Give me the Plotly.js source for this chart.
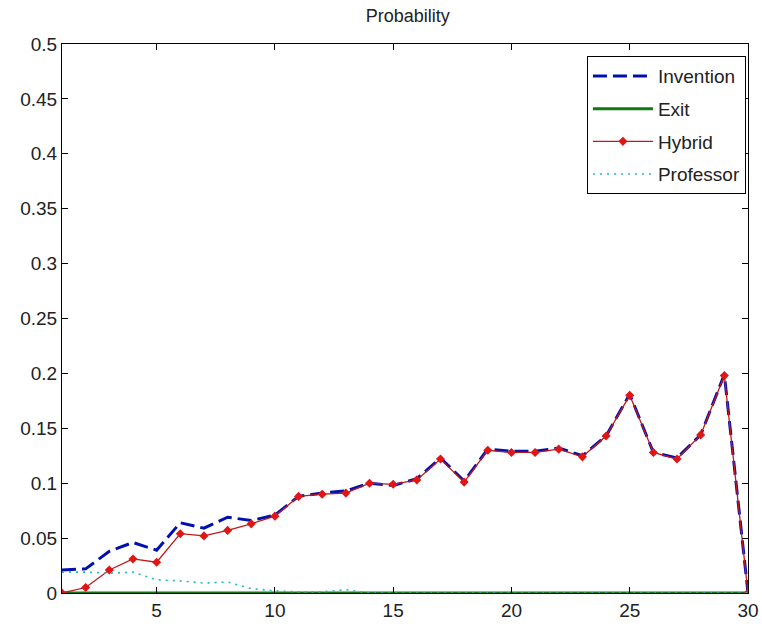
<!DOCTYPE html>
<html>
<head>
<meta charset="utf-8">
<script src="https://cdn.plot.ly/plotly-3.0.1.min.js"></script>
<style>
html,body{margin:0;padding:0;background:#fff;}
#chart{width:762px;height:630px;}
</style>
</head>
<body>
<div id="chart"></div>
<script>
const periods = [1,2,3,4,5,6,7,8,9,10,11,12,13,14,15,16,17,18,19,20,21,22,23,24,25,26,27,28,29,30];
const invention = [0.021,0.022,0.038,0.046,0.039,0.064,0.059,0.069,0.066,0.071,0.088,0.091,0.093,0.100,0.098,0.104,0.123,0.102,0.131,0.129,0.129,0.132,0.125,0.143,0.181,0.128,0.123,0.144,0.199,0];
const exitProb = [0,0,0,0,0,0,0,0,0,0,0,0,0,0,0,0,0,0,0,0,0,0,0,0,0,0,0,0,0,0];
const hybrid = [0,0.005,0.021,0.031,0.028,0.054,0.052,0.057,0.063,0.070,0.088,0.090,0.091,0.100,0.099,0.103,0.122,0.101,0.130,0.128,0.128,0.131,0.124,0.143,0.180,0.128,0.122,0.144,0.198,0];
const professor = [0.019,0.019,0.018,0.019,0.012,0.011,0.009,0.010,0.004,0.002,0.001,0.001,0.003,0,0,0,0,0,0,0,0,0,0,0,0,0,0,0,0,0];
const xTicks = [5,10,15,20,25,30];
const yTicks = [0,0.05,0.1,0.15,0.2,0.25,0.3,0.35,0.4,0.45,0.5];
const seriesNames = ['Invention','Exit','Hybrid','Professor'];

const FONT = 'Liberation Sans, Arial, sans-serif';

const traces = [
  {x: periods, y: invention, name: seriesNames[0], mode: 'lines', legendgroup: 'a',
   line: {color: '#0010b0', width: 3, dash: '14px,6px'}},
  {x: periods, y: exitProb, name: seriesNames[1], mode: 'lines', legendgroup: 'b',
   line: {color: '#107a10', width: 3}},
  {x: periods, y: hybrid, name: seriesNames[2], mode: 'lines+markers', legendgroup: 'c',
   line: {color: '#c01818', width: 1.3},
   marker: {symbol: 'diamond', size: 7, color: '#e01515'}},
  {x: periods, y: professor, name: seriesNames[3], mode: 'lines', legendgroup: 'd',
   line: {color: '#20b8c0', width: 1.6, dash: '2px,5px'}}
];

const layout = {
  width: 762, height: 630,
  margin: {l: 62, r: 14, t: 44, b: 37},
  paper_bgcolor: '#fff', plot_bgcolor: '#fff',
  font: {family: FONT, size: 19, color: '#222'},
  title: {text: 'Probability', font: {family: FONT, size: 18, color: '#222'}, x: 0.535, xanchor: 'center', y: 0.975, yanchor: 'middle'},
  xaxis: {
    range: [1, 30], tickmode: 'array', tickvals: xTicks, ticktext: xTicks.map(String),
    ticks: 'inside', ticklen: 6, tickcolor: '#000', showline: true, linecolor: '#000', linewidth: 1,
    mirror: 'ticks', showgrid: false, zeroline: false, tickfont: {size: 19}
  },
  yaxis: {
    range: [0, 0.5], tickmode: 'array', tickvals: yTicks, ticktext: yTicks.map(String),
    ticks: 'inside', ticklen: 6, tickcolor: '#000', showline: true, linecolor: '#000', linewidth: 1,
    mirror: 'ticks', showgrid: false, zeroline: false, tickfont: {size: 19}
  },
  legend: {
    x: 0.997, xanchor: 'right', y: 0.978, yanchor: 'top',
    bgcolor: '#fff', bordercolor: '#000', borderwidth: 1,
    font: {family: FONT, size: 19, color: '#222'},
    tracegroupgap: 5, itemwidth: 60
  },
  showlegend: true
};

Plotly.newPlot('chart', traces, layout, {staticPlot: true});
</script>
</body>
</html>
